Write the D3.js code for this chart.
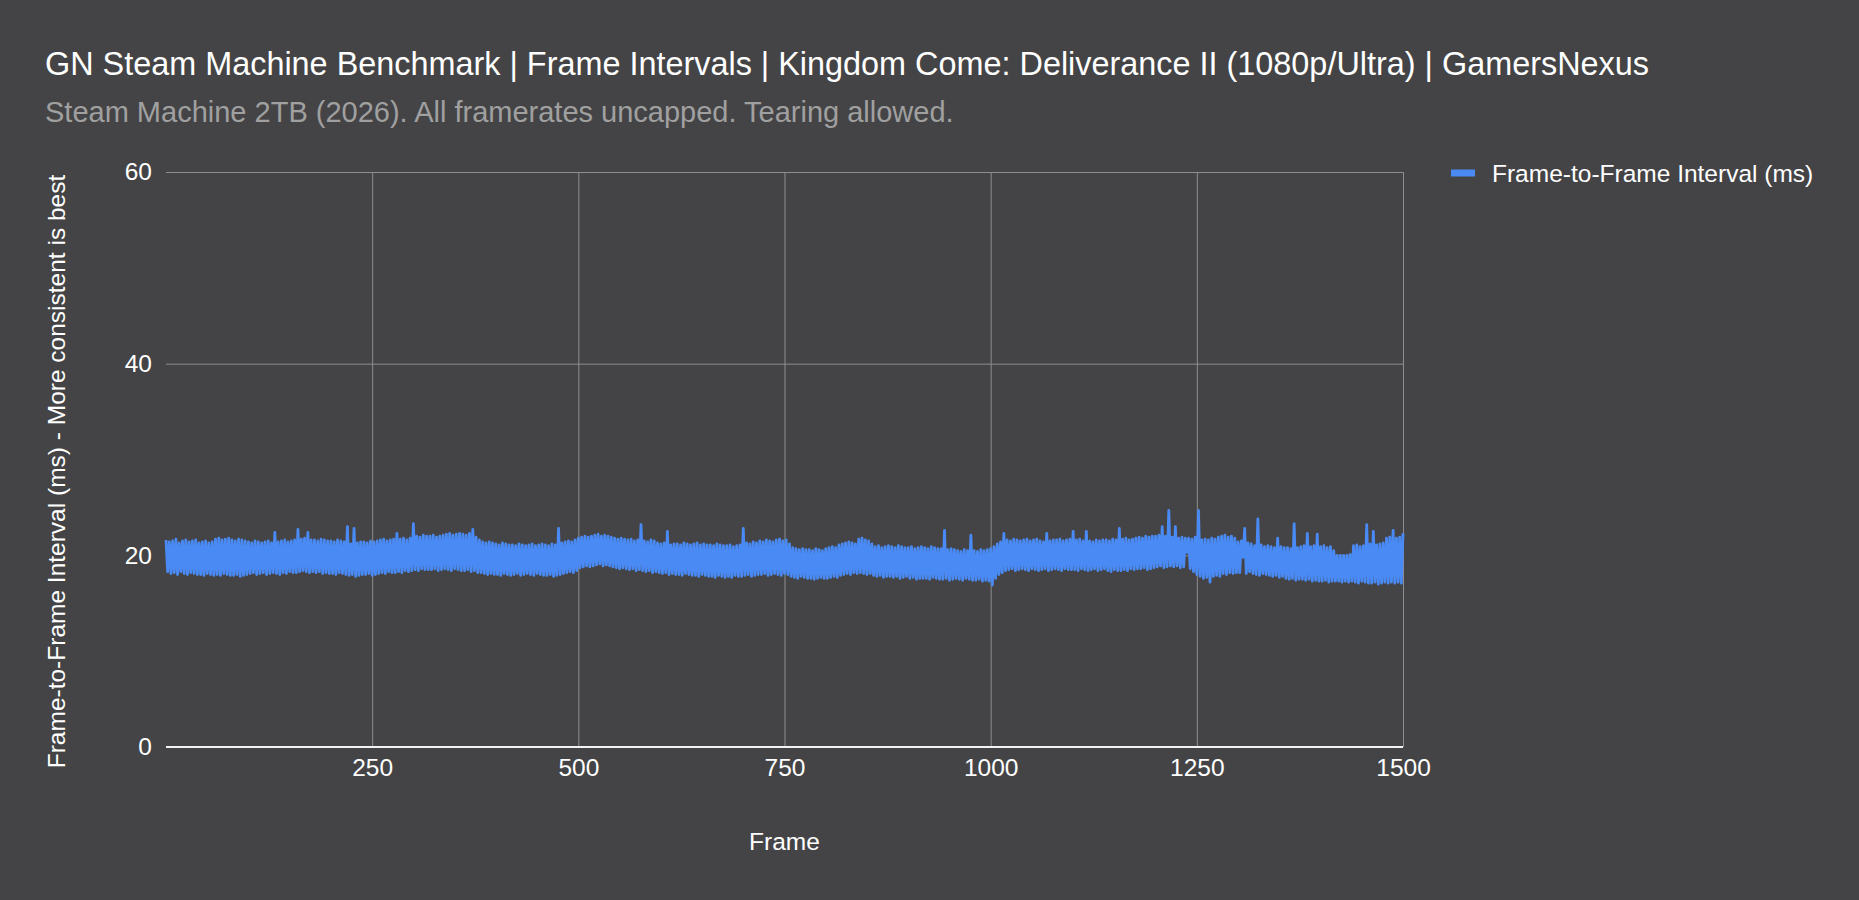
<!DOCTYPE html>
<html>
<head>
<meta charset="utf-8">
<script src="https://cdn.jsdelivr.net/npm/d3@7/dist/d3.min.js"></script>
<style>
  html, body { margin: 0; padding: 0; background: #444446; }
  svg { display: block; }
  text { font-family: "Liberation Sans", Arial, sans-serif; }
</style>
</head>
<body>
<svg id="chart" width="1859" height="900"></svg>
<script>
const titleText = "GN Steam Machine Benchmark | Frame Intervals | Kingdom Come: Deliverance II (1080p/Ultra) | GamersNexus";
const subtitleText = "Steam Machine 2TB (2026). All framerates uncapped. Tearing allowed.";
const seriesName = "Frame-to-Frame Interval (ms)";
const xAxisTitle = "Frame";
const yAxisTitle = "Frame-to-Frame Interval (ms) - More consistent is best";
const xTicks = [250, 500, 750, 1000, 1250, 1500];
const yTicks = [0, 20, 40, 60];
const frameStep = 2;
// frame-to-frame interval (ms), one reading every 2 frames (frames 0..1500)
const intervalMs = [
  21.6,18.3,21.4,18.1,21.5,18.2,21.7,18.0,21.3,18.3,
  21.5,18.1,21.6,18.0,21.4,18.2,21.5,18.1,21.6,18.0,
  21.3,18.0,21.4,17.9,21.5,18.1,21.3,18.0,21.4,17.9,
  21.7,18.0,21.8,17.9,21.6,18.1,21.7,18.0,21.8,17.9,
  21.6,17.9,21.5,18.0,21.7,17.8,21.6,17.9,21.5,18.0,
  21.4,18.1,21.3,18.2,21.5,18.0,21.4,18.1,21.3,18.2,
  21.4,18.0,21.5,18.1,21.3,18.2,22.4,18.1,21.4,18.0,
  21.5,18.2,21.6,18.1,21.4,18.3,21.5,18.2,21.6,18.2,
  22.7,18.3,21.7,18.4,21.8,18.3,22.4,18.2,21.6,18.3,
  21.6,18.2,21.5,18.3,21.7,18.1,21.6,18.2,21.5,18.1,
  21.5,18.1,21.4,18.0,21.6,18.2,21.5,18.1,21.4,18.0,
  23.0,17.9,21.2,18.0,22.8,17.8,21.3,17.9,21.4,18.0,
  21.4,18.0,21.3,18.1,21.5,17.9,21.4,18.0,21.5,18.1,
  21.6,18.2,21.7,18.1,21.5,18.3,21.6,18.2,21.7,18.2,
  22.3,18.3,21.7,18.2,21.8,18.4,21.6,18.3,21.8,18.4,
  23.3,18.5,22.0,18.4,21.9,18.6,22.1,18.5,22.0,18.5,
  22.0,18.5,22.1,18.6,21.9,18.4,22.0,18.5,22.1,18.6,
  22.2,18.5,22.3,18.4,22.1,18.6,22.2,18.5,22.3,18.4,
  22.2,18.4,22.1,18.5,22.3,18.3,22.7,18.4,21.9,18.2,
  21.6,18.2,21.4,18.1,21.3,18.0,21.4,18.1,21.3,18.0,
  21.2,18.0,21.1,17.9,21.3,18.1,21.2,18.0,21.1,17.9,
  21.1,18.0,21.0,18.1,21.2,17.9,21.1,18.0,21.0,18.1,
  21.1,18.0,21.2,17.9,21.0,18.1,21.1,18.0,21.2,17.9,
  21.1,17.9,21.0,18.0,21.2,17.8,21.1,17.9,22.8,18.0,
  21.3,18.1,21.4,18.2,21.5,18.3,21.4,18.2,21.6,18.4,
  21.8,18.7,21.9,18.8,22.0,18.9,21.9,18.8,22.0,18.9,
  22.1,19.0,22.2,19.1,22.0,18.9,22.1,19.0,22.0,18.9,
  21.9,18.8,21.8,18.7,21.7,18.6,21.8,18.7,21.7,18.6,
  21.6,18.5,21.7,18.6,21.5,18.4,21.6,18.5,23.2,18.4,
  21.5,18.3,21.4,18.4,21.6,18.2,21.5,18.3,21.3,18.2,
  21.2,18.1,21.3,18.2,22.5,18.0,21.1,18.1,21.2,18.0,
  21.2,18.0,21.1,17.9,21.3,18.1,21.2,18.0,21.1,17.9,
  21.2,17.9,21.3,17.8,21.1,18.0,21.2,17.9,21.1,17.8,
  21.1,17.8,21.0,17.7,21.2,17.9,21.1,17.8,21.0,17.7,
  21.0,17.8,21.1,17.7,20.9,17.9,21.0,17.8,21.1,17.8,
  22.8,17.9,21.3,18.0,21.2,17.8,21.4,17.9,21.3,18.0,
  21.5,18.0,21.4,18.1,21.6,17.9,21.5,18.0,21.4,18.1,
  21.6,18.0,21.7,17.9,21.5,18.1,21.6,18.0,21.2,17.8,
  20.8,17.7,20.7,17.6,20.6,17.8,20.7,17.7,20.6,17.6,
  20.6,17.6,20.5,17.5,20.7,17.6,20.6,17.7,20.5,17.6,
  20.7,17.6,20.8,17.7,20.9,17.8,20.8,17.7,21.1,17.9,
  21.2,18.0,21.3,18.1,21.4,18.0,21.3,18.2,21.2,18.1,
  21.7,18.2,21.8,18.1,21.6,18.0,21.5,18.1,21.2,17.9,
  20.9,17.8,21.0,17.9,20.8,17.7,20.9,17.8,21.0,17.8,
  20.9,17.7,20.8,17.8,21.0,17.6,20.9,17.7,20.8,17.8,
  20.8,17.6,20.9,17.7,20.7,17.5,20.8,17.6,20.9,17.6,
  20.8,17.6,20.7,17.5,20.9,17.7,20.8,17.6,20.7,17.5,
  20.7,17.5,22.6,17.6,20.6,17.4,20.7,17.5,20.6,17.6,
  20.5,17.5,20.4,17.4,20.6,17.6,20.5,17.5,22.1,17.4,
  20.5,17.4,20.4,17.5,20.6,17.3,20.5,17.4,20.6,17.3,
  20.7,16.9,20.9,17.6,21.2,18.0,21.4,18.2,22.3,18.4,
  21.6,18.5,21.5,18.6,21.7,18.4,21.6,18.5,21.5,18.6,
  21.6,18.5,21.7,18.4,21.5,18.6,21.6,18.5,21.7,18.4,
  21.5,18.5,21.4,18.6,22.3,18.4,21.5,18.5,21.6,18.6,
  21.6,18.5,21.7,18.4,21.5,18.6,21.6,18.5,21.7,18.5,
  22.5,18.5,21.6,18.4,21.7,18.6,21.5,18.5,22.5,18.4,
  21.5,18.5,21.4,18.6,21.6,18.4,21.5,18.5,21.6,18.6,
  21.6,18.4,21.5,18.3,21.7,18.5,21.6,18.4,22.8,18.4,
  21.7,18.5,21.8,18.4,21.6,18.6,21.7,18.5,21.8,18.6,
  21.9,18.6,21.8,18.7,22.0,18.5,21.9,18.6,22.0,18.7,
  22.0,18.8,22.1,18.9,23.0,18.7,22.0,18.8,24.7,18.9,
  21.9,18.8,23.0,18.9,21.8,18.7,21.9,18.8,21.8,20.3,
  21.8,18.6,21.7,18.3,21.9,18.0,24.7,17.8,21.6,17.6,
  21.7,17.7,21.6,17.2,21.8,17.8,21.7,17.9,21.9,17.8,
  22.0,18.1,22.1,18.0,21.9,18.2,22.0,18.1,21.8,18.2,
  21.4,18.2,21.5,19.8,22.8,18.1,21.3,18.3,21.2,18.1,
  21.0,18.0,23.8,17.9,21.1,18.1,20.9,18.0,21.0,17.9,
  20.9,17.8,20.8,17.9,21.8,17.7,20.9,17.8,20.8,17.6,
  20.8,17.5,20.7,17.6,23.3,17.4,20.8,17.5,20.9,17.5,
  21.0,17.4,22.3,17.5,20.9,17.3,21.0,17.4,22.2,17.3,
  20.9,17.3,21.0,17.4,20.8,17.2,20.9,17.3,20.5,17.3,
  20.0,17.3,20.0,17.2,20.0,17.3,20.0,17.2,20.1,17.3,
  21.0,17.2,21.1,17.1,20.9,17.3,21.0,17.2,23.2,17.1,
  21.2,17.1,22.5,17.2,21.1,17.0,21.2,17.1,21.3,17.2,
  21.8,17.1,21.9,17.2,22.6,17.1,21.8,17.2,21.9,17.1,
  22.3
];

const data = intervalMs.map((v, i) => ({ frame: i * frameStep, ms: v }));

const svg = d3.select("#chart");
const W = 1859, H = 900;
const plot = { left: 166, right: 1403, top: 172, bottom: 747 };
const FONT = '"Liberation Sans", Arial, sans-serif';
const LABEL_SIZE = 24.5;

svg.append("rect").attr("width", W).attr("height", H).attr("fill", "#444446");

const x = d3.scaleLinear().domain([0, 1500]).range([plot.left, plot.right]);
const y = d3.scaleLinear().domain([0, 60]).range([plot.bottom, plot.top]);

// Titles
svg.append("text").attr("x", 45).attr("y", 75)
  .attr("fill", "#ffffff").attr("font-size", 32.4).text(titleText);
svg.append("text").attr("x", 45).attr("y", 122)
  .attr("fill", "#a0a0a0").attr("font-size", 29).text(subtitleText);

// Grid (horizontal)
const yGrid = d3.axisLeft(y).tickValues(yTicks.filter(d => d !== 0))
  .tickSize(-(plot.right - plot.left)).tickFormat("");
const gy = svg.append("g").attr("transform", `translate(${plot.left},0)`).call(yGrid);
gy.select(".domain").remove();
gy.selectAll(".tick line").attr("stroke", "#8e8e8e").attr("stroke-width", 1);

// Grid (vertical)
const xGrid = d3.axisBottom(x).tickValues(xTicks)
  .tickSize(-(plot.bottom - plot.top)).tickFormat("");
const gx = svg.append("g").attr("transform", `translate(0,${plot.bottom})`).call(xGrid);
gx.select(".domain").remove();
gx.selectAll(".tick line").attr("stroke", "#8e8e8e").attr("stroke-width", 1);

// Line
const line = d3.line().x(d => x(d.frame)).y(d => y(d.ms));
svg.append("path").datum(data)
  .attr("d", line)
  .attr("fill", "none")
  .attr("stroke", "#4a8af4")
  .attr("stroke-width", 2.8)
  .attr("stroke-linejoin", "round");

// Baseline
svg.append("line")
  .attr("x1", plot.left).attr("x2", plot.right)
  .attr("y1", y(0)).attr("y2", y(0))
  .attr("stroke", "#f2f2f2").attr("stroke-width", 2);

// Y tick labels
const yAxis = d3.axisLeft(y).tickValues(yTicks).tickSize(0).tickPadding(14).tickFormat(d3.format("d"));
const yAx = svg.append("g").attr("transform", `translate(${plot.left},0)`).call(yAxis);
yAx.select(".domain").remove();
yAx.selectAll("text").attr("fill", "#ffffff").attr("font-size", LABEL_SIZE).attr("font-family", FONT);

// X tick labels
const xAxis = d3.axisBottom(x).tickValues(xTicks).tickSize(0).tickPadding(12).tickFormat(d3.format("d"));
const xAx = svg.append("g").attr("transform", `translate(0,${plot.bottom})`).call(xAxis);
xAx.select(".domain").remove();
xAx.selectAll("text").attr("fill", "#ffffff").attr("font-size", LABEL_SIZE).attr("font-family", FONT);

// Axis titles
svg.append("text").attr("x", (plot.left + plot.right) / 2).attr("y", 850)
  .attr("text-anchor", "middle").attr("fill", "#ffffff").attr("font-size", LABEL_SIZE)
  .text(xAxisTitle);
svg.append("text")
  .attr("transform", `translate(65,${(plot.top + plot.bottom) / 2 + 12}) rotate(-90)`)
  .attr("text-anchor", "middle").attr("fill", "#ffffff").attr("font-size", LABEL_SIZE)
  .text(yAxisTitle);

// Legend
svg.append("rect").attr("x", 1451).attr("y", 169.5).attr("width", 24).attr("height", 7)
  .attr("fill", "#4a8af4");
svg.append("text").attr("x", 1492).attr("y", 181.5)
  .attr("fill", "#ffffff").attr("font-size", LABEL_SIZE).text(seriesName);
</script>
</body>
</html>
